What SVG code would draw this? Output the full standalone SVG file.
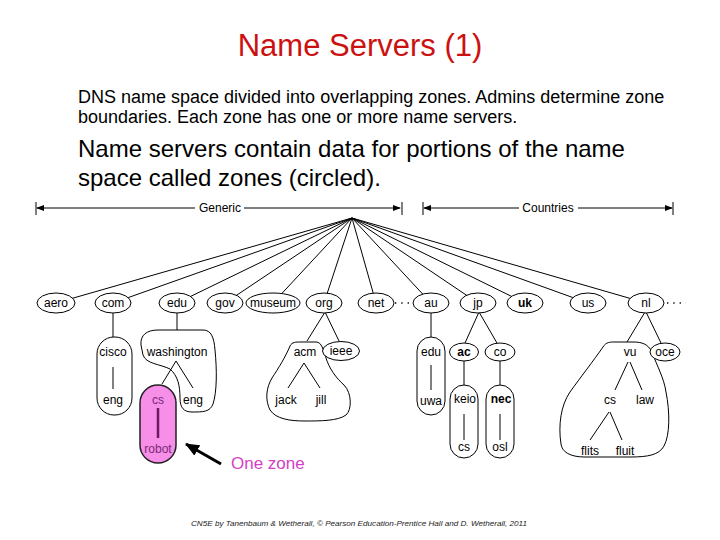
<svg xmlns="http://www.w3.org/2000/svg" width="720" height="540" viewBox="0 0 720 540">
<style>
.t{font-family:"Liberation Sans",Arial,sans-serif;fill:#000}
.lbl{font-family:"Liberation Sans",Arial,sans-serif;font-size:12px;text-anchor:middle;fill:#000}
.b{font-weight:bold}
.nd{fill:#fff;stroke:#000;stroke-width:1}
.zone{fill:none;stroke:#000;stroke-width:1}
.ln{stroke:#000;stroke-width:1;fill:none}
.dots{stroke:#000;stroke-width:1.3;stroke-dasharray:1.3 5;fill:none}
</style>
<defs>
<marker id="ah" viewBox="0 0 8 6" refX="7" refY="3" markerWidth="8" markerHeight="6" markerUnits="userSpaceOnUse" orient="auto-start-reverse">
<path d="M0,0 L8,3 L0,6 Z" fill="#000"/>
</marker>
<marker id="big" viewBox="0 0 14 12" refX="13" refY="6" markerWidth="14" markerHeight="12" markerUnits="userSpaceOnUse" orient="auto">
<path d="M0,0 L14,6 L0,12 Z" fill="#000"/>
</marker>
</defs>
<rect width="720" height="540" fill="#fff"/>

<text class="t" x="360" y="56" font-size="31" text-anchor="middle" fill="#cc1111" style="fill:#cc1111">Name Servers (1)</text>
<text class="t" x="78" y="103" font-size="18">DNS name space divided into overlapping zones. Admins determine zone</text>
<text class="t" x="78" y="123" font-size="18">boundaries. Each zone has one or more name servers.</text>
<text class="t" x="78" y="157" font-size="24">Name servers contain data for portions of the name</text>
<text class="t" x="78" y="186" font-size="24">space called zones (circled).</text>

<g id="connectors">
  <!-- brackets -->
  <line class="ln" x1="36" y1="202" x2="36" y2="215" stroke-width="2"/>
  <line class="ln" x1="37" y1="208" x2="195" y2="208" marker-start="url(#ah)"/>
  <line class="ln" x1="244" y1="208" x2="400" y2="208" marker-end="url(#ah)"/>
  <line class="ln" x1="402" y1="202" x2="402" y2="215"/>
  <line class="ln" x1="423" y1="202" x2="423" y2="215" stroke-width="2"/>
  <line class="ln" x1="424" y1="208" x2="519" y2="208" marker-start="url(#ah)"/>
  <line class="ln" x1="578" y1="208" x2="672" y2="208" marker-end="url(#ah)"/>
  <line class="ln" x1="673" y1="202" x2="673" y2="215"/>
  <!-- fan from root -->
  <g class="ln">
    <line x1="352" y1="218" x2="56" y2="303"/>
    <line x1="352" y1="218" x2="113" y2="303"/>
    <line x1="352" y1="218" x2="177" y2="303"/>
    <line x1="352" y1="218" x2="225" y2="303"/>
    <line x1="352" y1="218" x2="273" y2="303"/>
    <line x1="352" y1="218" x2="324" y2="303"/>
    <line x1="352" y1="218" x2="376" y2="303"/>
    <line x1="352" y1="218" x2="431" y2="303"/>
    <line x1="352" y1="218" x2="478" y2="303"/>
    <line x1="352" y1="218" x2="525" y2="303"/>
    <line x1="352" y1="218" x2="588" y2="303"/>
    <line x1="352" y1="218" x2="646" y2="303"/>
  </g>
  <line class="dots" x1="395" y1="303" x2="413" y2="303"/>
  <line class="dots" x1="667" y1="303" x2="686" y2="303"/>
  <!-- subtrees -->
  <g class="ln">
    <line x1="113" y1="313" x2="113" y2="337"/>
    <line x1="113" y1="367" x2="113" y2="389"/>
    <line x1="177" y1="313" x2="177" y2="330"/>
    <line x1="176" y1="361" x2="162" y2="384"/>
    <line x1="176" y1="361" x2="193" y2="388"/>
    <line x1="325" y1="312" x2="307" y2="341"/>
    <line x1="325" y1="312" x2="339" y2="341"/>
    <line x1="304" y1="363" x2="288" y2="388"/>
    <line x1="304" y1="363" x2="320" y2="388"/>
    <line x1="431" y1="313" x2="431" y2="337"/>
    <line x1="431" y1="365" x2="431" y2="390"/>
    <line x1="479" y1="312" x2="465" y2="343"/>
    <line x1="479" y1="312" x2="497" y2="343"/>
    <line x1="464" y1="361" x2="464" y2="385"/>
    <line x1="464" y1="414" x2="464" y2="440"/>
    <line x1="500" y1="361" x2="500" y2="385"/>
    <line x1="500" y1="414" x2="500" y2="440"/>
    <line x1="645" y1="312" x2="627" y2="342"/>
    <line x1="646" y1="312" x2="661" y2="343"/>
    <line x1="628" y1="362" x2="615" y2="390"/>
    <line x1="630" y1="362" x2="642" y2="390"/>
    <line x1="609" y1="412" x2="590" y2="440"/>
    <line x1="610" y1="412" x2="622" y2="440"/>
  </g>
  <line x1="221" y1="464" x2="186" y2="444" stroke="#000" stroke-width="3" marker-end="url(#big)"/>
</g>

<text class="lbl" x="220" y="212" font-size="12">Generic</text>
<text class="lbl" x="548" y="212">Countries</text>

<g id="n-aero"><ellipse class="nd" cx="56" cy="303" rx="19" ry="10"/><text class="lbl" x="56" y="307">aero</text></g>
<g id="n-com"><ellipse class="nd" cx="113" cy="303" rx="18" ry="10"/><text class="lbl" x="113" y="307">com</text></g>
<g id="n-edu"><ellipse class="nd" cx="177" cy="303" rx="18" ry="10"/><text class="lbl" x="177" y="307">edu</text></g>
<g id="n-gov"><ellipse class="nd" cx="225" cy="303" rx="18" ry="10"/><text class="lbl" x="225" y="307">gov</text></g>
<g id="n-museum"><ellipse class="nd" cx="273" cy="303" rx="27" ry="10"/><text class="lbl" x="273" y="307">museum</text></g>
<g id="n-org"><ellipse class="nd" cx="324" cy="303" rx="18" ry="10"/><text class="lbl" x="324" y="307">org</text></g>
<g id="n-net"><ellipse class="nd" cx="376" cy="303" rx="18" ry="10"/><text class="lbl" x="376" y="307">net</text></g>
<g id="n-au"><ellipse class="nd" cx="431" cy="303" rx="18" ry="10"/><text class="lbl" x="431" y="307">au</text></g>
<g id="n-jp"><ellipse class="nd" cx="478" cy="303" rx="18" ry="10"/><text class="lbl" x="478" y="307">jp</text></g>
<g id="n-uk"><ellipse class="nd" cx="525" cy="303" rx="18" ry="10"/><text class="lbl b" x="525" y="307">uk</text></g>
<g id="n-us"><ellipse class="nd" cx="588" cy="303" rx="18" ry="10"/><text class="lbl" x="588" y="307">us</text></g>
<g id="n-nl"><ellipse class="nd" cx="646" cy="303" rx="18" ry="10"/><text class="lbl" x="646" y="307">nl</text></g>

<g id="z-cisco"><rect class="zone" x="97" y="337" width="35" height="78" rx="17" ry="17"/>
  <text class="lbl" x="113" y="356">cisco</text><text class="lbl" x="113" y="404">eng</text></g>
<g id="z-washington"><path class="zone" d="M141,345 C140,335 147,330 158,330 L203,330 C211,330 214,337 215,350 C217,370 217,392 213,404 C210,412 203,412 192,412 C184,412 180,408 180,398 C180,386 178,376 170,369 C160,364 146,364 143,355 Z"/>
  <text class="lbl" x="177" y="356">washington</text><text class="lbl" x="193" y="404">eng</text></g>
<g id="z-cs-robot"><rect x="140" y="385" width="36" height="78" rx="18" ry="18" fill="#f78ee8" stroke="#222" stroke-width="1.5"/>
  <line x1="158" y1="408" x2="158" y2="438" stroke="#6a1860" stroke-width="2.5"/>
  <text class="lbl" x="158" y="404" style="fill:#7a2a78">cs</text><text class="lbl" x="158" y="453" style="fill:#7a2a78">robot</text></g>
<g id="z-acm"><path class="zone" d="M290,346 C292,342 296,342 300,342 L316,342 C322,342 323,350 326,358 C329,368 336,378 344,385 C352,393 352,410 346,415 C338,421 320,421 305,421 C290,421 276,419 270,410 C265,400 266,388 272,378 C278,369 286,356 290,346 Z"/>
  <text class="lbl" x="305" y="356">acm</text><text class="lbl" x="286" y="404">jack</text><text class="lbl" x="321" y="404">jill</text></g>
<g id="n-ieee"><ellipse class="nd" cx="341" cy="351" rx="18.5" ry="9.5"/><text class="lbl" x="341" y="355">ieee</text></g>
<g id="z-au-edu"><rect class="zone" x="417" y="337" width="28" height="78" rx="14" ry="14"/>
  <text class="lbl" x="431" y="356">edu</text><text class="lbl" x="431" y="405">uwa</text></g>
<g id="n-ac"><ellipse class="nd" cx="464" cy="352" rx="14.5" ry="9"/><text class="lbl b" x="464" y="356">ac</text></g>
<g id="n-co"><ellipse class="nd" cx="500" cy="352" rx="15" ry="9"/><text class="lbl" x="500" y="356">co</text></g>
<g id="z-keio"><rect class="zone" x="450" y="385" width="28" height="73" rx="14" ry="14"/>
  <text class="lbl" x="465" y="403">keio</text><text class="lbl" x="464" y="451">cs</text></g>
<g id="z-nec"><rect class="zone" x="486" y="385" width="28" height="73" rx="14" ry="14"/>
  <text class="lbl b" x="501" y="403">nec</text><text class="lbl" x="500" y="451">osl</text></g>
<g id="z-vu"><path class="zone" d="M603,347 C606,342 610,342 615,342 L633,342 C642,342 648,344 652,352 C657,366 664,378 666,392 C670,412 670,435 664,446 C659,455 648,457 630,457 L585,457 C570,457 562,452 561,444 C558,425 561,405 570,392 C580,378 594,360 603,347 Z"/>
  <text class="lbl" x="630" y="356">vu</text><text class="lbl" x="610" y="404">cs</text><text class="lbl" x="645" y="404">law</text>
  <text class="lbl" x="590" y="455">flits</text><text class="lbl" x="625" y="455">fluit</text></g>
<g id="n-oce"><ellipse class="nd" cx="665" cy="352" rx="15" ry="9"/><text class="lbl" x="665" y="356">oce</text></g>

<text class="t" x="231" y="469" font-size="17" style="fill:#d43fc4">One zone</text>
<text class="t" x="191" y="526" font-size="7.5" font-style="italic" textLength="336" lengthAdjust="spacingAndGlyphs" style="fill:#222">CN5E by Tanenbaum  &amp; Wetherall, © Pearson Education-Prentice Hall and D. Wetherall, 2011</text>
</svg>
